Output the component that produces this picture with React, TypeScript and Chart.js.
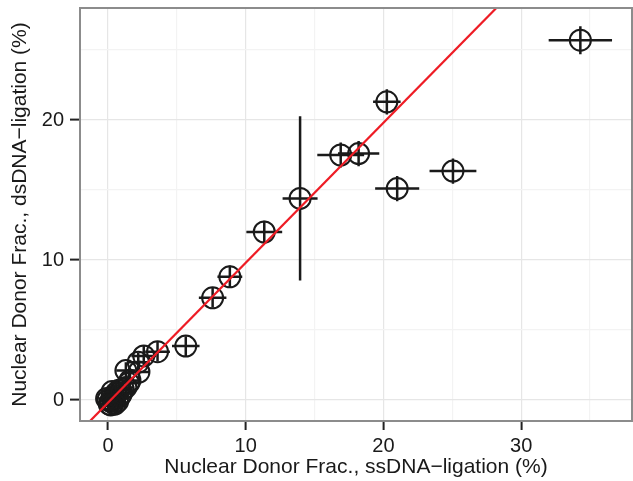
import { useEffect, useRef } from "react";
import { Chart, registerables } from "chart.js";

Chart.register(...registerables);

// Nuclear donor fraction per sample (%), measured with both ligation protocols
const ssdnaFrac = [
  34.3, 20.25, 16.9, 18.2, 13.95, 21.0, 25.05, 11.35, 8.85, 7.6, 5.65, 3.6, 2.6,
  2.2, 2.25, 1.3, 1.5, 1.1, 0.8, 0.9, 0.6, 0.5, 0.3, 0.2, 0.0, 0.1, -0.1, 0.4,
  0.7, 1.0, 1.3, 0.3, 1.6, 0.2, 0.5,
];
const dsdnaFrac = [
  25.7, 21.3, 17.5, 17.6, 14.4, 15.1, 16.35, 12.0, 8.8, 7.3, 3.85, 3.45, 3.15,
  2.7, 2.0, 2.1, 1.2, 0.8, 0.7, 0.3, 0.5, 0.1, 0.2, -0.1, 0.0, -0.3, 0.1, -0.2,
  -0.1, 0.5, 0.9, 0.6, 1.4, -0.35, -0.3,
];
// Half-widths of the error bars (%)
const ssdnaErr = [
  2.3, 1.0, 1.7, 1.5, 1.27, 1.6, 1.7, 1.3, 0.9, 1.0, 1.0, 0.9, 0.9, 0.8, 0.8,
  0.7, 0.7, 0.6, 0.6, 0.6, 0.6, 0.6, 0.6, 0.6, 0.6, 0.6, 0.6, 0.6, 0.6, 0.6,
  0.6, 0.6, 0.7, 0.6, 0.6,
];
const dsdnaErr = [
  1.0, 0.9, 0.9, 0.9, 5.86, 0.9, 0.9, 0.8, 0.8, 0.7, 0.7, 0.7, 0.7, 0.7, 0.7,
  0.6, 0.6, 0.6, 0.6, 0.6, 0.6, 0.6, 0.6, 0.6, 0.6, 0.6, 0.6, 0.6, 0.6, 0.6,
  0.6, 0.6, 0.6, 0.6, 0.6,
];

// Linear fit dsDNA ~ ssDNA
const fitSlope = 1.0;
const fitIntercept = -0.2;

const xTickValues = [0, 5, 10, 15, 20, 25, 30, 35];
const yTickValues = [0, 5, 10, 15, 20, 25];
const majorStep = 10;

const xLimits = [-2.03, 38.05];
const yLimits = [-1.5, 28.0];

const xTitle = "Nuclear Donor Frac., ssDNA\u2212ligation (%)";
const yTitle = "Nuclear Donor Frac., dsDNA\u2212ligation (%)";

const FONT = "'Liberation Sans', Arial, Helvetica, sans-serif";

const isMajor = (v: number) => Math.abs(v % majorStep) < 1e-9;

const errorBarPlugin = {
  id: "errorBars",
  beforeDatasetsDraw(chart: any) {
    const { ctx, scales } = chart;
    const xs = scales.x;
    const ys = scales.y;
    ctx.save();
    ctx.strokeStyle = "#1a1a1a";
    ctx.lineWidth = 2.5;
    ctx.lineCap = "butt";
    for (let i = 0; i < ssdnaFrac.length; i++) {
      const cx = xs.getPixelForValue(ssdnaFrac[i]);
      const cy = ys.getPixelForValue(dsdnaFrac[i]);
      ctx.beginPath();
      ctx.moveTo(xs.getPixelForValue(ssdnaFrac[i] - ssdnaErr[i]), cy);
      ctx.lineTo(xs.getPixelForValue(ssdnaFrac[i] + ssdnaErr[i]), cy);
      ctx.moveTo(cx, ys.getPixelForValue(dsdnaFrac[i] - dsdnaErr[i]));
      ctx.lineTo(cx, ys.getPixelForValue(dsdnaFrac[i] + dsdnaErr[i]));
      ctx.stroke();
    }
    ctx.restore();
  },
};

const panelBorderPlugin = {
  id: "panelBorder",
  afterDatasetsDraw(chart: any) {
    const { ctx, chartArea } = chart;
    ctx.save();
    ctx.strokeStyle = "#8c8c8c";
    ctx.lineWidth = 2;
    ctx.strokeRect(
      chartArea.left,
      chartArea.top,
      chartArea.right - chartArea.left,
      chartArea.bottom - chartArea.top
    );
    ctx.restore();
  },
};

const zeroPadding = (s: any) => {
  s.paddingLeft = 0;
  s.paddingRight = 0;
  s.paddingTop = 0;
  s.paddingBottom = 0;
};

export default function App() {
  const canvasRef = useRef<HTMLCanvasElement | null>(null);

  useEffect(() => {
    if (!canvasRef.current) return;
    const points = ssdnaFrac.map((x, i) => ({ x, y: dsdnaFrac[i] }));
    const fitLine = [xLimits[0] - 2, xLimits[1] + 2].map((x) => ({
      x,
      y: fitSlope * x + fitIntercept,
    }));

    const gridColor = (ctx: any) =>
      ctx.tick && isMajor(ctx.tick.value) ? "#e6e6e6" : "#f3f3f3";
    const tickColor = (ctx: any) =>
      ctx.tick && isMajor(ctx.tick.value) ? "#222222" : "rgba(0,0,0,0)";

    const chart = new Chart(canvasRef.current, {
      type: "scatter",
      data: {
        datasets: [
          {
            type: "line",
            data: fitLine,
            borderColor: "#ee1c25",
            borderWidth: 2.2,
            pointRadius: 0,
            fill: false,
            order: 0,
          } as any,
          {
            type: "scatter",
            data: points,
            pointStyle: "circle",
            pointRadius: 10.5,
            borderColor: "#1a1a1a",
            borderWidth: 2,
            backgroundColor: "rgba(0,0,0,0)",
            order: 1,
          },
        ],
      },
      options: {
        responsive: false,
        animation: false,
        events: [],
        layout: {
          autoPadding: false,
          padding: { left: 0, top: 8, right: 1, bottom: 0 },
        },
        plugins: {
          legend: { display: false },
          tooltip: { enabled: false },
        },
        scales: {
          x: {
            type: "linear",
            min: xLimits[0],
            max: xLimits[1],
            afterBuildTicks: (s: any) => {
              s.ticks = xTickValues.map((value) => ({ value }));
            },
            afterFit: (s: any) => {
              s.height = 60;
              zeroPadding(s);
            },
            border: { display: false },
            grid: {
              color: gridColor,
              lineWidth: 1.2,
              tickColor,
              tickLength: 9,
              tickWidth: 2,
            },
            ticks: {
              padding: 4,
              color: "#1a1a1a",
              font: { family: FONT, size: 20 },
              callback: (v: any) => (isMajor(Number(v)) ? String(v) : ""),
            },
            title: {
              display: true,
              text: xTitle,
              color: "#1a1a1a",
              font: { family: FONT, size: 21 },
              padding: { top: 0, bottom: 1 },
            },
          },
          y: {
            type: "linear",
            min: yLimits[0],
            max: yLimits[1],
            afterBuildTicks: (s: any) => {
              s.ticks = yTickValues.map((value) => ({ value }));
            },
            afterFit: (s: any) => {
              s.width = 80;
              zeroPadding(s);
            },
            border: { display: false },
            grid: {
              color: gridColor,
              lineWidth: 1.2,
              tickColor,
              tickLength: 10,
              tickWidth: 2,
            },
            ticks: {
              padding: 6,
              color: "#1a1a1a",
              font: { family: FONT, size: 20 },
              callback: (v: any) => (isMajor(Number(v)) ? String(v) : ""),
            },
            title: {
              display: true,
              text: yTitle,
              color: "#1a1a1a",
              font: { family: FONT, size: 21 },
              padding: { top: 8, bottom: 0 },
            },
          },
        },
      },
      plugins: [errorBarPlugin, panelBorderPlugin],
    });

    return () => chart.destroy();
  }, []);

  return (
    <div style={{ position: "fixed", left: 0, top: 0, width: 633, height: 481, background: "#ffffff" }}>
      <canvas ref={canvasRef} width={633} height={481} style={{ display: "block" }} />
    </div>
  );
}
